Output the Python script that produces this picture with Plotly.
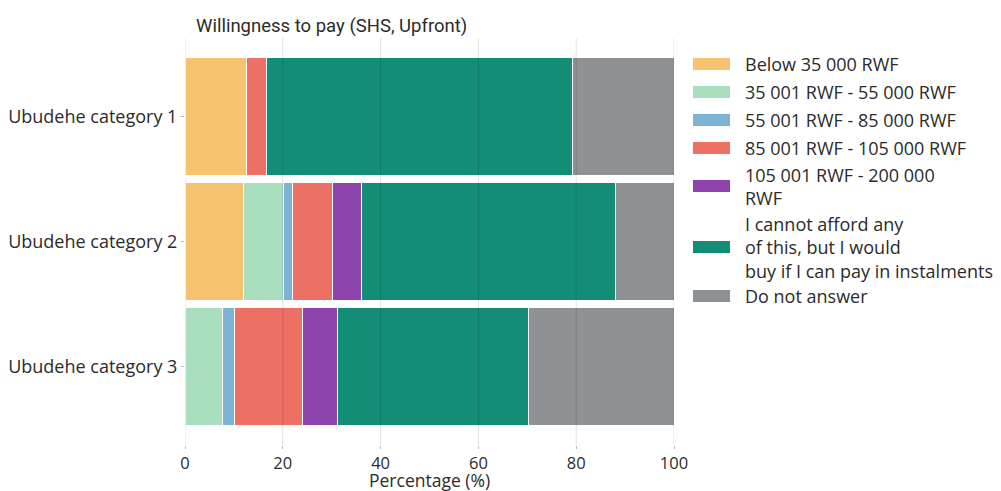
import plotly.graph_objects as go

categories = ["Ubudehe category 1", "Ubudehe category 2", "Ubudehe category 3"]
below_35000 = [12.6, 12.0, None]
r35001_55000 = [None, 8.1, 7.6]
r55001_85000 = [None, 1.8, 2.6]
r85001_105000 = [4.1, 8.2, 13.9]
r105001_200000 = [None, 6.0, 7.1]
instalments = [62.6, 52.0, 39.0]
no_answer = [20.7, 11.9, 29.8]

series_names = [
    "Below 35 000 RWF",
    "35 001 RWF - 55 000 RWF",
    "55 001 RWF - 85 000 RWF",
    "85 001 RWF - 105 000 RWF",
    "105 001 RWF - 200 000<br>RWF",
    "I cannot afford any<br>of this, but I would<br>buy if I can pay in instalments",
    "Do not answer",
]
series_values = [below_35000, r35001_55000, r55001_85000, r85001_105000,
                 r105001_200000, instalments, no_answer]
colors = ["#F7C270", "#A9DFBF", "#7FB3D5", "#EC7063", "#8E44AD", "#138D75", "#8F9294"]
x_ticks = [0, 20, 40, 60, 80, 100]

FONT = "Open Sans"
TXT = "#2b2b2b"
OFF = 8  # page body margin
W, H = 1001 - OFF, 491 - OFF
# plot area in reference (window) pixels
L, R, T, B = 185, 674, 38, 445

fig = go.Figure()
for name, vals, col in zip(series_names, series_values, colors):
    fig.add_trace(go.Bar(
        y=categories, x=vals, name=name, orientation="h",
        marker=dict(color=col, line=dict(color="white", width=1)),
        width=0.94, showlegend=False,
    ))

shapes = []
for t in x_ticks:
    shapes.append(dict(type="line", xref="x", yref="paper", x0=t, x1=t, y0=0, y1=1,
                       line=dict(color="rgba(0,0,0,0.12)", width=1), layer="above"))


def px_x(px):
    return (px - L) / (R - L)


def px_y(py):
    return (B - py) / (B - T)


legend_y = [64, 92, 120, 148, 186, 247, 296]
annotations = []
for name, col, yc in zip(series_names, colors, legend_y):
    shapes.append(dict(type="rect", xref="paper", yref="paper",
                       x0=px_x(693), x1=px_x(730), y0=px_y(yc + 6), y1=px_y(yc - 6),
                       fillcolor=col, line=dict(width=0)))
    annotations.append(dict(xref="paper", yref="paper", x=px_x(743), y=px_y(yc),
                            text=name, showarrow=False, xanchor="left", yanchor="middle",
                            align="left", font=dict(family=FONT, size=18, color=TXT)))

annotations.append(dict(xref="paper", yref="paper", x=px_x(331), y=px_y(26),
                        text="Willingness to pay (SHS, Upfront)", showarrow=False,
                        xanchor="center", yanchor="middle",
                        font=dict(family="Roboto", size=18.5, color=TXT)))
annotations.append(dict(xref="paper", yref="paper", x=0.5, y=px_y(480),
                        text="Percentage (%)", showarrow=False,
                        xanchor="center", yanchor="middle",
                        font=dict(family=FONT, size=17.5, color=TXT)))

fig.update_layout(
    width=W, height=H,
    margin=dict(l=L - OFF, r=W - (R - OFF), t=T - OFF, b=H - (B - OFF), pad=0),
    barmode="stack",
    plot_bgcolor="white", paper_bgcolor="white",
    font=dict(family=FONT, size=17, color=TXT),
    shapes=shapes, annotations=annotations,
    xaxis=dict(range=[0, 100], tickvals=x_ticks, showgrid=False, zeroline=False,
               showline=False, ticks="outside", ticklen=3, tickcolor="#bbbbbb",
               ticklabelstandoff=0, automargin=False,
               tickfont=dict(family=FONT, size=16.5, color=TXT)),
    yaxis=dict(categoryorder="array", categoryarray=categories,
               range=[2.63, -0.63], showgrid=False, zeroline=False, showline=False,
               ticks="outside", ticklen=3, tickcolor="#bbbbbb", automargin=False,
               tickfont=dict(family=FONT, size=18, color=TXT)),
)

fig.write_html("out.html")
